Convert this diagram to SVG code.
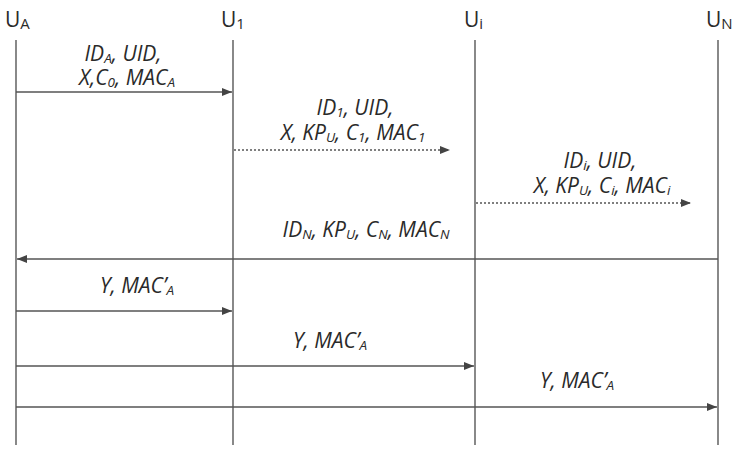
<svg xmlns="http://www.w3.org/2000/svg" width="738" height="450" viewBox="0 0 738 450">
  <style>
    .life { stroke: #6b6b6b; stroke-width: 1.6; fill: none; }
    .msg { stroke: #555; stroke-width: 1.6; fill: none; }
    .dot { stroke: #555; stroke-width: 1.3; stroke-dasharray: 2 2; fill: none; }
    .hdr { font-family: "Open Sans", "Liberation Sans", sans-serif; font-size: 21px; fill: #2a2a2a; }
    .hsub { font-size: 15px; }
    .lbl { font-family: "Open Sans", "Liberation Sans", sans-serif; font-style: italic; font-size: 21px; fill: #2a2a2a; }
    .sub { font-size: 13.5px; }
  </style>
  <defs>
    <marker id="arrow" viewBox="0 0 10 8" refX="10" refY="4" markerWidth="10" markerHeight="8" markerUnits="userSpaceOnUse" orient="auto">
      <path d="M0,0 L10,4 L0,8 Z" fill="#444"/>
    </marker>
  </defs>

  <!-- participants -->
  <g id="ua">
    <text class="hdr" x="5" y="27">U<tspan class="hsub" dy="2">A</tspan></text>
    <line class="life" x1="16" y1="40" x2="16" y2="445"/>
  </g>
  <g id="u1">
    <text class="hdr" x="221" y="27">U<tspan class="hsub" dy="2">1</tspan></text>
    <line class="life" x1="233" y1="40" x2="233" y2="445"/>
  </g>
  <g id="ui">
    <text class="hdr" x="464" y="27">U<tspan class="hsub" dy="2">i</tspan></text>
    <line class="life" x1="475" y1="40" x2="475" y2="445"/>
  </g>
  <g id="un">
    <text class="hdr" x="706" y="27">U<tspan class="hsub" dy="2">N</tspan></text>
    <line class="life" x1="718" y1="40" x2="718" y2="445"/>
  </g>

  <!-- messages -->
  <g id="connectors">
    <line class="msg" x1="16" y1="92" x2="232" y2="92" marker-end="url(#arrow)"/>
    <line class="dot" x1="234" y1="150" x2="450" y2="150" marker-end="url(#arrow)"/>
    <line class="dot" x1="476" y1="203" x2="691" y2="203" marker-end="url(#arrow)"/>
    <line class="msg" x1="718" y1="259" x2="17" y2="259" marker-end="url(#arrow)"/>
    <line class="msg" x1="16" y1="311" x2="232" y2="311" marker-end="url(#arrow)"/>
    <line class="msg" x1="16" y1="366" x2="474" y2="366" marker-end="url(#arrow)"/>
    <line class="msg" x1="16" y1="407" x2="717" y2="407" marker-end="url(#arrow)"/>
  </g>

  <!-- message labels (two-line labels kept as one text each) -->
  <g id="labels">
    <text class="lbl" text-anchor="middle"><tspan x="123" y="61">ID<tspan class="sub" dy="2">A</tspan><tspan dy="-2">, UID,</tspan></tspan><tspan x="127" y="85">X,C<tspan class="sub" dy="2">0</tspan><tspan dy="-2">, MAC</tspan><tspan class="sub" dy="2">A</tspan></tspan></text>

    <text class="lbl" text-anchor="middle"><tspan x="355" y="115">ID<tspan class="sub" dy="2">1</tspan><tspan dy="-2">, UID,</tspan></tspan><tspan x="353" y="140">X, KP<tspan class="sub" dy="2">U</tspan><tspan dy="-2">, C</tspan><tspan class="sub" dy="2">1</tspan><tspan dy="-2">, MAC</tspan><tspan class="sub" dy="2">1</tspan></tspan></text>

    <text class="lbl" text-anchor="middle"><tspan x="600" y="168">ID<tspan class="sub" dy="2">i</tspan><tspan dy="-2">, UID,</tspan></tspan><tspan x="602" y="193">X, KP<tspan class="sub" dy="2">U</tspan><tspan dy="-2">, C</tspan><tspan class="sub" dy="2">i</tspan><tspan dy="-2">, MAC</tspan><tspan class="sub" dy="2">i</tspan></tspan></text>

    <text class="lbl" x="366" y="237" text-anchor="middle">ID<tspan class="sub" dy="2">N</tspan><tspan dy="-2">, KP</tspan><tspan class="sub" dy="2">U</tspan><tspan dy="-2">, C</tspan><tspan class="sub" dy="2">N</tspan><tspan dy="-2">, MAC</tspan><tspan class="sub" dy="2">N</tspan></text>

    <text class="lbl" x="137" y="293" text-anchor="middle">Y, MAC’<tspan class="sub" dy="2">A</tspan></text>
    <text class="lbl" x="330" y="348" text-anchor="middle">Y, MAC’<tspan class="sub" dy="2">A</tspan></text>
    <text class="lbl" x="577" y="388" text-anchor="middle">Y, MAC’<tspan class="sub" dy="2">A</tspan></text>
  </g>
</svg>
